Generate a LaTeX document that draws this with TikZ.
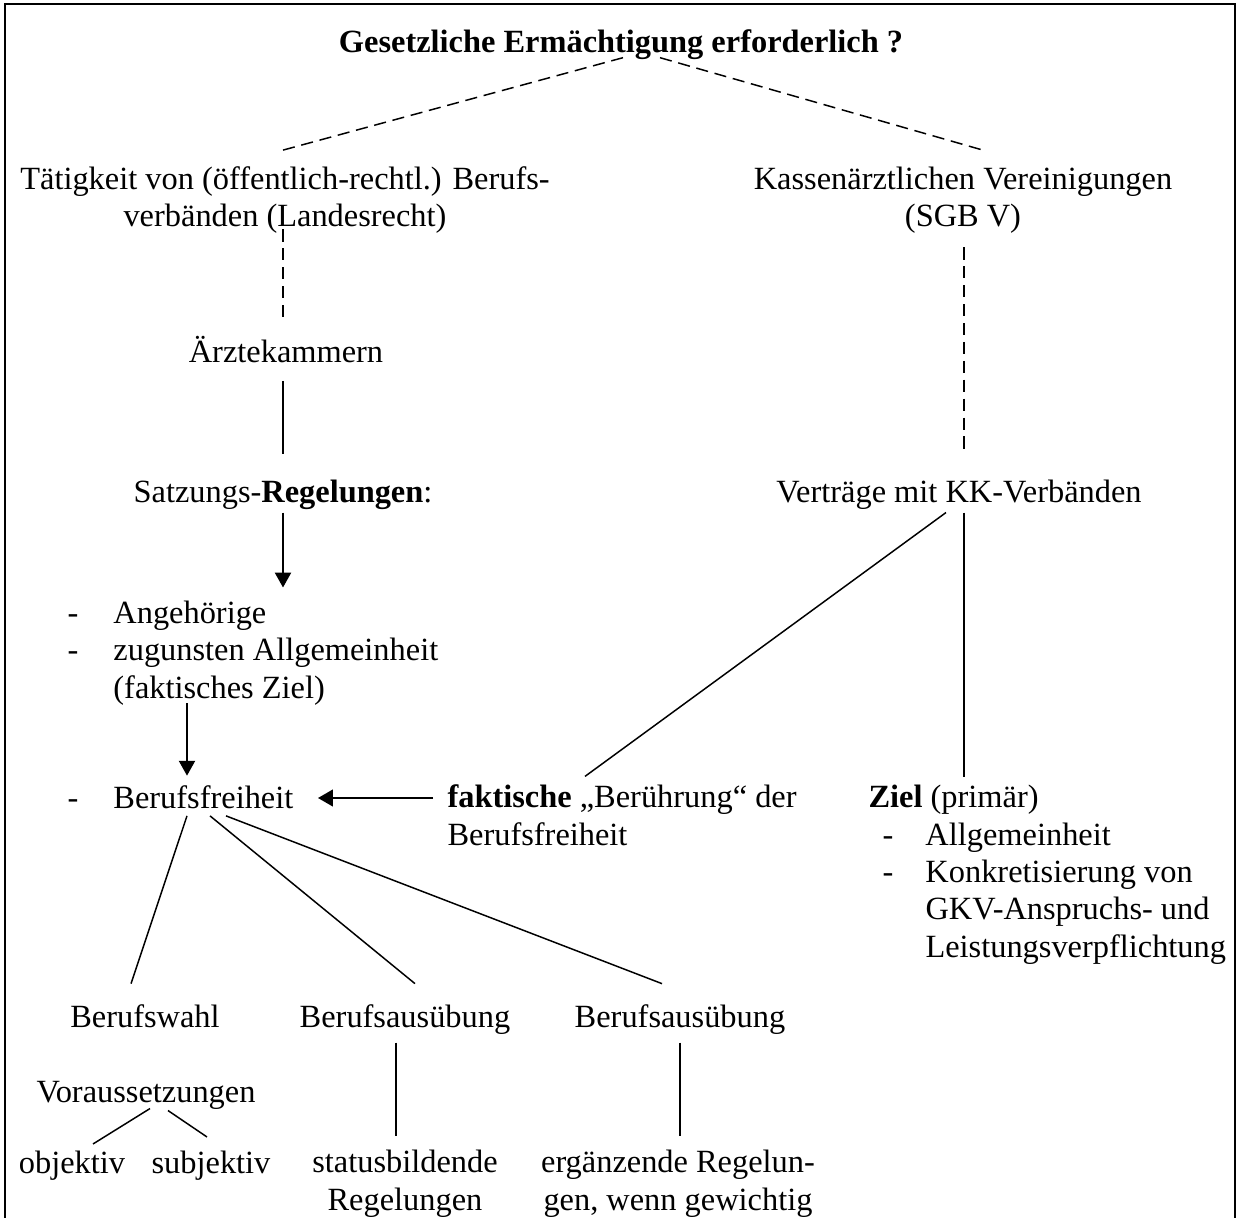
\documentclass[tikz,border=0pt]{standalone}
\usepackage{fontspec}
\setmainfont{Liberation Serif}
\usepackage{tikz}
\usetikzlibrary{arrows.meta, calc}
\newcommand{\lstrich}{\makebox[17pt][l]{-}}
\newcommand{\zstrich}{\hspace*{5.2pt}\makebox[15.9pt][l]{-}}
\newcommand{\zeinzug}{\hspace*{21.1pt}}
\begin{document}
\begin{tikzpicture}[
    x=0.37037pt, y=-0.37037pt,
    >={Triangle[width=6pt, length=5.5pt]},
    txt/.style={inner sep=0pt, font=\fontsize{12}{13.8}\selectfont, align=#1},
    txt/.default=center,
    linie/.style={line width=0.55pt},
    dick/.style={line width=1.1pt},
    gestr/.style={line width=0.55pt, dash pattern=on 4.5pt off 2.5pt},
    rahmen/.style={line width=1pt},
  ]
  \useasboundingbox (0,0) rectangle (1239,1218);
  \draw[rahmen] (5,1218) |- (1235,4) -- (1235,1218);

  \node[txt, anchor=base] (titel) at (621,53) {\textbf{Gesetzliche Ermächtigung erforderlich ?}};

  % zwei Zweige (base = letzte Zeile)
  \node[txt, anchor=base] (taet) at (285,227) {Tätigkeit von (öffentlich-rechtl.) Berufs-\\verbänden (Landesrecht)};
  \node[txt, anchor=base] (kv) at (963,227) {Kassenärztlichen Vereinigungen\\(SGB V)};
  \node[txt, anchor=base] (aerzte) at (286,363) {Ärztekammern};
  \node[txt, anchor=base] (satzung) at (283,502) {Satzungs-\textbf{Regelungen}:};
  \node[txt, anchor=base] (vertr) at (959,502) {Verträge mit KK-Verbänden};

  % Listen
  \node[txt=left, anchor=base west] (liste) at (67,698) {\lstrich Angehörige\\\lstrich zugunsten Allgemeinheit\\\hspace*{17pt}(faktisches Ziel)};
  \node[txt=left, anchor=base west] (bf) at (67,808) {\lstrich Berufsfreiheit};
  \node[txt=left, anchor=base west] (fakt) at (447,845) {\textbf{faktische} „Berührung“ der\\Berufsfreiheit};
  \node[txt=left, anchor=base west] (ziel) at (868,957) {\textbf{Ziel} (primär)\\\zstrich Allgemeinheit\\\zstrich Konkretisierung von\\\zeinzug GKV-Anspruchs- und\\\zeinzug Leistungsverpflichtung};

  % unten
  \node[txt, anchor=base] (wahl) at (145,1027) {Berufswahl};
  \node[txt, anchor=base] (aus1) at (405,1027) {Berufsausübung};
  \node[txt, anchor=base] (aus2) at (680,1027) {Berufsausübung};
  \node[txt, anchor=base] (vor) at (146,1102) {Voraussetzungen};
  \node[txt, anchor=base] (obj) at (72,1173) {objektiv};
  \node[txt, anchor=base] (subj) at (211,1173) {subjektiv};
  \node[txt, anchor=base] (status) at (405,1210) {statusbildende\\Regelungen};
  \node[txt, anchor=base] (erg) at (678,1210) {ergänzende Regelun-\\gen, wenn gewichtig};

  % Verbindungen
  \draw[gestr] ($(titel.south)+(2,-3)$) -- ($(taet.north)+(-3,-16)$);
  \draw[gestr] ($(titel.south)+(39,-3)$) -- ($(kv.north)+(22,-16)$);
  \draw[gestr] ($(taet.south)+(-2,-5)$) -- ($(aerzte.north)+(-3,-14)$);
  \draw[gestr] ($(kv.south)+(1,13)$) -- ($(vertr.north)+(5,-25)$);
  \draw[linie] ($(aerzte.south)+(-3,17)$) -- ($(satzung.north)+(0,-25)$);
  \draw[linie, ->] ($(satzung.south)+(0,3)$) -- ($(liste.north west)+(216,-13)$);
  \draw[linie, ->] ($(liste.south west)+(120,-2)$) -- ($(bf.north west)+(120,-9)$);
  \coordinate (pf) at ($(bf.base east)+(0,-10)$);
  \draw[dick, ->] ($(fakt.west |- pf)+(-14,0)$) -- ($(pf)+(24,0)$);
  \draw[linie] ($(vertr.south)+(-13,3)$) -- ($(fakt.north west)+(138,-8)$);
  \draw[linie] ($(vertr.south)+(5,3)$) -- ($(ziel.north west)+(96,-8)$);

  \draw[linie] ($(bf.south west)+(120,7)$) -- ($(wahl.north)+(-14,-20)$);
  \draw[linie] ($(bf.south west)+(143,7)$) -- ($(aus1.north)+(10,-20)$);
  \draw[linie] ($(bf.south west)+(159,7)$) -- ($(aus2.north)+(-18,-20)$);
  \draw[linie] ($(aus1.south)+(-9,8)$) -- ($(status.north)+(-9,-14)$);
  \draw[linie] ($(aus2.south)+(0,8)$) -- ($(erg.north)+(2,-14)$);
  \draw[linie] ($(vor.south)+(4,-1)$) -- ($(obj.north)+(21,-6)$);
  \draw[linie] ($(vor.south)+(22,1)$) -- ($(subj.north)+(-4,-13)$);

\end{tikzpicture}
\end{document}
